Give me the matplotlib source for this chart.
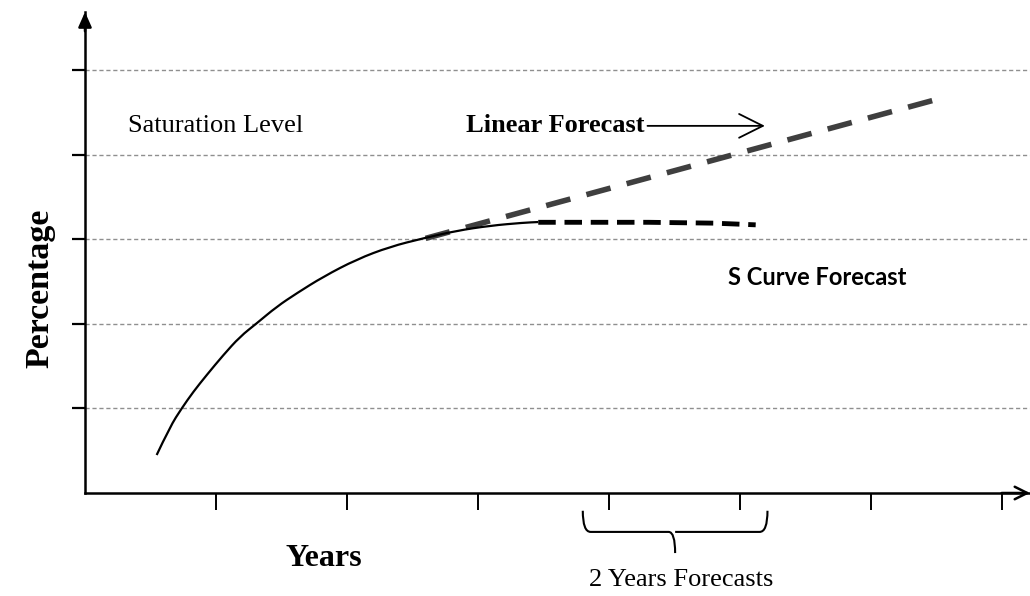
"""Sketch: linear vs S-curve forecast of a saturating percentage over years."""

import matplotlib

matplotlib.use("Agg")
import matplotlib.pyplot as plt  # noqa: E402
from matplotlib.patches import PathPatch  # noqa: E402
from matplotlib.path import Path  # noqa: E402

# history (solid curve) in tick units
hist_x = [0.547, 0.649, 0.738, 0.827, 0.929, 1.056, 1.183, 1.311, 1.463,
          1.616, 1.819, 2.074, 2.328, 2.582, 2.837, 3.092, 3.346, 3.460]
hist_y = [0.449, 0.784, 1.001, 1.197, 1.395, 1.631, 1.848, 2.006, 2.202,
          2.361, 2.557, 2.762, 2.911, 3.011, 3.100, 3.160, 3.195, 3.203]

# S-curve forecast (black dashes) and linear forecast (grey dashes)
scurve_x = [3.46, 4.30, 4.80, 5.12]
scurve_y = [3.20, 3.20, 3.19, 3.17]
linear_x = [2.60, 6.59]
linear_y = [3.01, 4.69]

year_ticks = [1, 2, 3, 4, 5, 6, 7]
pct_ticks = [1, 2, 3, 4, 5]
forecast_span = (3.80, 5.21)  # the "2 Years Forecasts" brace

SERIF = "Liberation Serif"
XMAX, YMAX = 7.214, 5.686


def smooth_path(xs, ys):
    """Quadratic-bezier path through the midpoints, read points as controls."""
    pts = list(zip(xs, ys))
    verts = [pts[0]]
    codes = [Path.MOVETO]
    for i in range(1, len(pts) - 1):
        mx = (pts[i][0] + pts[i + 1][0]) / 2
        my = (pts[i][1] + pts[i + 1][1]) / 2
        verts += [pts[i], (mx, my)]
        codes += [Path.CURVE3, Path.CURVE3]
    verts.append(pts[-1])
    codes.append(Path.LINETO)
    return Path(verts, codes)


fig = plt.figure(figsize=(10.30, 5.96), dpi=100)
ax = fig.add_axes([85 / 1030, 103 / 596, 945 / 1030, 481 / 596])
ax.set_xlim(0, XMAX)
ax.set_ylim(0, YMAX)

for s in ("top", "right"):
    ax.spines[s].set_visible(False)
for s in ("left", "bottom"):
    ax.spines[s].set_linewidth(1.8)

ax.set_xticks(year_ticks)
ax.set_yticks(pct_ticks)
ax.set_xticklabels([])
ax.set_yticklabels([])
ax.tick_params(axis="x", direction="out", length=12, width=1.4)
ax.tick_params(axis="y", direction="out", length=9.5, width=1.6)

for y in pct_ticks:
    ax.axhline(y, color="#8f8f8f", linewidth=1.0, linestyle=(0, (3, 2)), zorder=1)

# axis arrow heads
ax.annotate("", xy=(0, 1.0), xytext=(0, 0.96), xycoords="axes fraction",
            arrowprops=dict(arrowstyle="-|>,head_length=0.9,head_width=0.4",
                            color="black", lw=1.8, shrinkA=0, shrinkB=0))
ax.annotate("", xy=(1.0, 0), xytext=(0.97, 0), xycoords="axes fraction",
            arrowprops=dict(arrowstyle="->,head_length=0.9,head_width=0.45",
                            color="black", lw=1.8, shrinkA=0, shrinkB=0),
            annotation_clip=False)

ax.add_patch(PathPatch(smooth_path(hist_x, hist_y), fill=False, lw=1.6,
                       edgecolor="black", zorder=3, capstyle="butt"))
ax.plot(linear_x, linear_y, color="#3f3f3f", linewidth=4.0,
        linestyle=(0, (4.5, 3.0)), zorder=2)
ax.plot(scurve_x, scurve_y, color="black", linewidth=3.5,
        linestyle=(0, (3.6, 1.8)), zorder=4)

# texts inside the plot
ax.text(1.0, 4.34, "Saturation Level", fontsize=19, family=SERIF,
        ha="center", va="center")
ax.annotate("Linear Forecast", xy=(5.19, 4.34), xytext=(2.91, 4.34),
            fontsize=19, family=SERIF, fontweight="bold", ha="left",
            va="center",
            arrowprops=dict(arrowstyle="->,head_length=0.9,head_width=0.45",
                            color="black", lw=1.3, shrinkA=0, shrinkB=0))
ax.text(5.59, 2.55, "S Curve Forecast", fontsize=17, family="Lato",
        fontweight="bold", ha="center", va="center")

# brace under the forecast years
x0, x1 = forecast_span
xm = (x0 + x1) / 2
top, mid, tip = -0.21, -0.46, -0.71
verts = [(x0, top), (x0, mid), (x0 + 0.06, mid),
         (xm - 0.05, mid), (xm, mid), (xm, tip),
         (xm, mid), (xm + 0.05, mid),
         (x1 - 0.06, mid), (x1, mid), (x1, top)]
codes = [Path.MOVETO, Path.CURVE3, Path.CURVE3,
         Path.LINETO, Path.CURVE3, Path.CURVE3,
         Path.MOVETO, Path.CURVE3,
         Path.LINETO, Path.CURVE3, Path.CURVE3]
ax.add_patch(PathPatch(Path(verts, codes), fill=False, lw=1.5,
                       edgecolor="black", clip_on=False))

# texts outside the axes, in figure pixels
fig.text(324 / 1030, 1 - 558 / 596, "Years", fontsize=23, family=SERIF,
         fontweight="bold", ha="center", va="center")
fig.text(681 / 1030, 1 - 580 / 596, "2 Years Forecasts", fontsize=19,
         family=SERIF, ha="center", va="center")
fig.text(40 / 1030, 1 - 288 / 596, "Percentage", fontsize=24.5, family=SERIF,
         fontweight="bold", ha="center", va="center", rotation=90)

fig.savefig("out.png", dpi=100)
